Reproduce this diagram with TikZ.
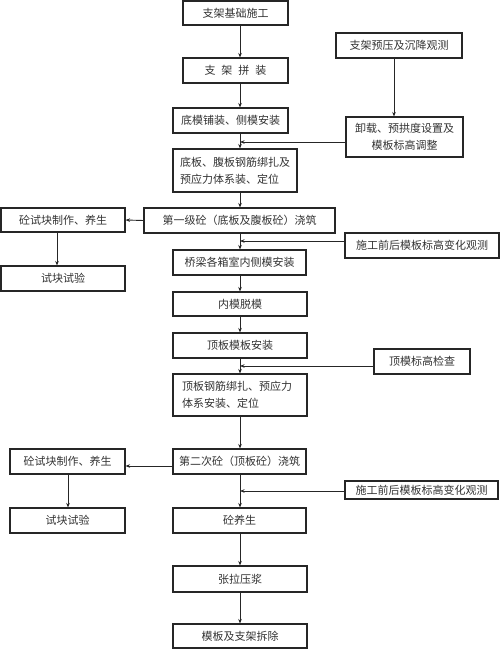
\documentclass[tikz,border=0pt]{standalone}
\usepackage{fontspec}
\setmainfont{Noto Sans CJK SC}
\usetikzlibrary{arrows.meta}
\begin{document}
\begin{tikzpicture}[x=1pt,y=1pt,
  box/.style={draw=black!85, line width=1.1pt, inner sep=0pt, font=\fontsize{11}{17}\selectfont, text=black!80},
  con/.style={draw=black!85, line width=0.9pt, -{Stealth[length=4.5pt,width=3.5pt]}}]
\useasboundingbox (0,0) rectangle (500,-650);
\fill[white] (0,0) rectangle (500,-650);
\coordinate (sp) at (240,0);
% main column
\node[box, minimum width=105, minimum height=24] (n1) at (235.5,-13) {支架基础施工};
\node[box, minimum width=105, minimum height=25] (n2) at (235.5,-70.5) {支\hspace{6pt}架\hspace{6pt}拼\hspace{6pt}装};
\node[box, minimum width=115, minimum height=25] (n3) at (230.5,-120.5) {底模铺装、侧模安装};
\node[box, minimum width=124, minimum height=43, align=left, text width=110] (n4) at (235,-170.5) {底板、腹板钢筋绑扎及\\预应力体系装、定位};
\node[box, minimum width=191, minimum height=25] (n5) at (239.5,-220.5) {第一级砼（底板及腹板砼）浇筑};
\node[box, minimum width=133, minimum height=25] (n6) at (239.5,-262.5) {桥梁各箱室内侧模安装};
\node[box, minimum width=134, minimum height=24] (n7) at (240,-304) {内模脱模};
\node[box, minimum width=134, minimum height=25] (n8) at (240,-345.5) {顶板模板安装};
\node[box, minimum width=134, minimum height=42, align=left, text width=116] (n9) at (240,-395) {顶板钢筋绑扎、预应力\\体系安装、定位};
\node[box, minimum width=133, minimum height=25] (n10) at (239.5,-461.5) {第二次砼（顶板砼）浇筑};
\node[box, minimum width=133, minimum height=25] (n11) at (239.5,-520.5) {砼养生};
\node[box, minimum width=134, minimum height=26] (n12) at (240,-579) {张拉压浆};
\node[box, minimum width=134, minimum height=24] (n13) at (240,-636) {模板及支架拆除};
% left column
\node[box, minimum width=124, minimum height=24] (l1) at (63,-220) {砼试块制作、养生};
\node[box, minimum width=124, minimum height=25] (l2) at (63,-278.5) {试块试验};
\node[box, minimum width=115, minimum height=25] (l3) at (67.5,-461.5) {砼试块制作、养生};
\node[box, minimum width=115, minimum height=25] (l4) at (67.5,-520.5) {试块试验};
% right column
\node[box, minimum width=126, minimum height=25] (r0) at (399,-45.5) {支架预压及沉降观测};
\node[box, minimum width=117, minimum height=40, align=center] (r1) at (404.5,-137) {卸载、预拱度设置及\\模板标高调整};
\node[box, minimum width=154, minimum height=25] (r2) at (422,-245.5) {施工前后模板标高变化观测};
\node[box, minimum width=96, minimum height=25] (r3) at (422,-361.5) {顶模标高检查};
\node[box, minimum width=153, minimum height=18] (r4) at (421.5,-490) {施工前后模板标高变化观测};
% spine connectors
\foreach \a/\b in {n1/n2,n2/n3,n3/n4,n4/n5,n5/n6,n6/n7,n7/n8,n8/n9,n9/n10,n10/n11,n11/n12,n12/n13}
  \draw[con] (\a.south -| sp) -- (\b.north -| sp);
% right side
\draw[con] (r0.south -| 394,0) -- (r1.north -| 394,0);
\draw[con] ([yshift=-5pt]r1.west) -- ([yshift=-5pt]r1.west -| sp);
\draw[con] ([yshift=4.5pt]r2.west) -- ([yshift=4.5pt]r2.west -| sp);
\draw[con] ([yshift=-4.5pt]r3.west) -- ([yshift=-4.5pt]r3.west -| sp);
\draw[con] ([yshift=-1pt]r4.west) -- ([yshift=-1pt]r4.west -| sp);
% left side
\draw[con] (n5.west) -- (l1.east);
\draw[con] (l1.south -| 57,0) -- (l2.north -| 57,0);
\draw[con] ([yshift=-4.5pt]n10.west) -- ([yshift=-4.5pt]n10.west -| l3.east);
\draw[con] (l3.south -| 68,0) -- (l4.north -| 68,0);
\end{tikzpicture}
\end{document}
